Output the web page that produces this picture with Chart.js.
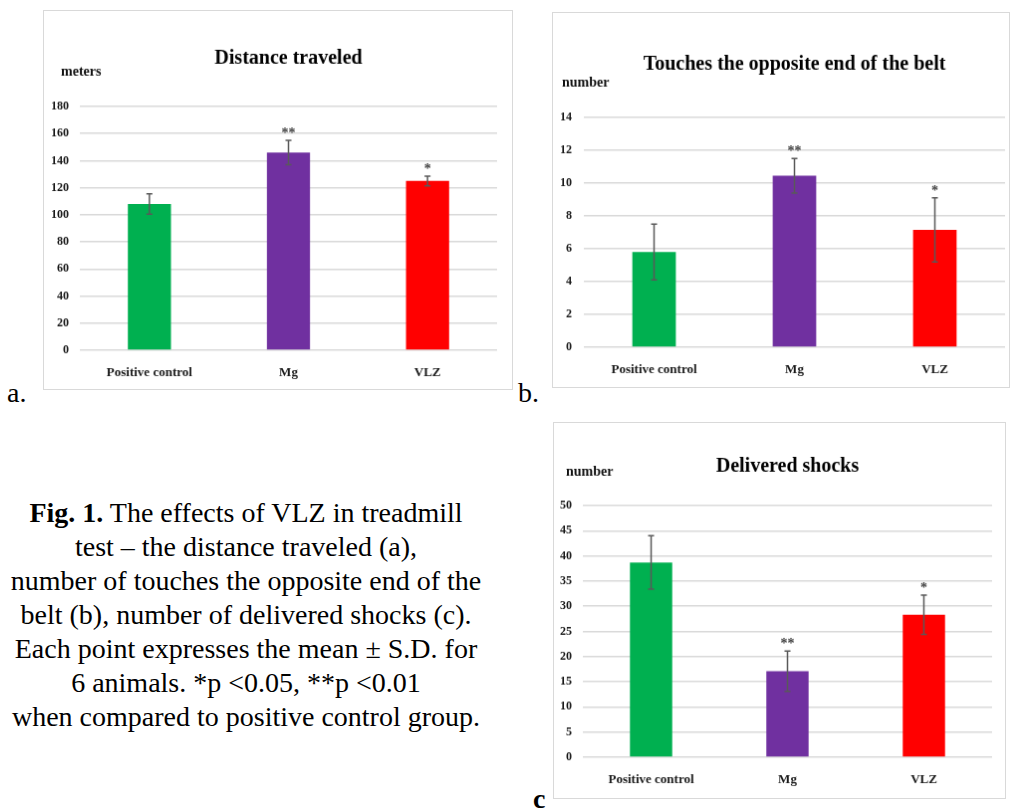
<!DOCTYPE html>
<html>
<head>
<meta charset="utf-8">
<script src="https://cdn.jsdelivr.net/npm/chart.js@4/dist/chart.umd.min.js"></script>
<style>
  html, body { margin: 0; padding: 0; background: #fff; }
  body { width: 1012px; height: 812px; position: relative; overflow: hidden; font-family: "Liberation Serif", serif; }
  canvas { position: absolute; border: 1px solid #d9d9d9; }
  .tag { position: absolute; font-size: 28px; line-height: 30px; color: #000; }
  #caption { position: absolute; left: 0; top: 496px; width: 492px; text-align: center; font-size: 28px; line-height: 34px; color: #000; }
</style>
</head>
<body>
<canvas id="chartA" width="470" height="380" style="left:43px; top:10px;"></canvas>
<canvas id="chartB" width="458" height="376" style="left:552px; top:12px;"></canvas>
<canvas id="chartC" width="453" height="377" style="left:553px; top:422px;"></canvas>

<div class="tag" style="left:7px; top:378px;">a.</div>
<div class="tag" style="left:518px; top:378px;">b.</div>
<div class="tag" style="left:533px; top:784px; font-weight:bold;">c</div>

<div id="caption"><b>Fig. 1.</b> The effects of VLZ in treadmill<br>test – the distance traveled (a),<br>number of touches the opposite end of the<br>belt (b), number of delivered shocks (c).<br>Each point expresses the mean ± S.D. for<br>6 animals. *p &lt;0.05, **p &lt;0.01<br>when compared to positive control group.</div>

<script>
// groups and colours
const groups = ['Positive control', 'Mg', 'VLZ'];
const barColors = ['#00B050', '#7030A0', '#FF0000'];

// a. distance traveled (meters)
const distanceMean = [108, 146, 125];
const distanceSD = [7.5, 9, 3.5];
const distanceStars = ['', '**', '*'];
const distanceTicks = [0, 20, 40, 60, 80, 100, 120, 140, 160, 180];

// b. touches of the opposite end of the belt
const touchesMean = [5.8, 10.45, 7.15];
const touchesSD = [1.7, 1.05, 1.95];
const touchesStars = ['', '**', '*'];
const touchesTicks = [0, 2, 4, 6, 8, 10, 12, 14];

// c. delivered shocks
const shocksMean = [38.7, 17.1, 28.3];
const shocksSD = [5.3, 4.0, 3.9];
const shocksStars = ['', '**', '*'];
const shocksTicks = [0, 5, 10, 15, 20, 25, 30, 35, 40, 45, 50];

const FONT = '"Liberation Serif", "Times New Roman", serif';

// error bars, significance stars and the unit label
const errorBars = {
  id: 'errorBars',
  afterDatasetsDraw(chart, args, opts) {
    const ctx = chart.ctx;
    const y = chart.scales.y;
    const means = chart.data.datasets[0].data;
    ctx.save();
    ctx.strokeStyle = '#595959';
    ctx.lineWidth = 1.5;
    ctx.fillStyle = '#404040';
    ctx.font = 'bold 14px ' + FONT;
    ctx.textAlign = 'center';
    ctx.textBaseline = 'alphabetic';
    chart.getDatasetMeta(0).data.forEach((bar, i) => {
      const top = y.getPixelForValue(means[i] + opts.sd[i]);
      const bot = y.getPixelForValue(means[i] - opts.sd[i]);
      ctx.beginPath();
      ctx.moveTo(bar.x, top); ctx.lineTo(bar.x, bot);
      ctx.moveTo(bar.x - 3, top); ctx.lineTo(bar.x + 3, top);
      ctx.moveTo(bar.x - 3, bot); ctx.lineTo(bar.x + 3, bot);
      ctx.stroke();
      if (opts.stars[i]) ctx.fillText(opts.stars[i], bar.x, top - 3);
    });
    ctx.fillStyle = '#111';
    ctx.font = 'bold 14px ' + FONT;
    ctx.textAlign = 'left';
    ctx.textBaseline = 'middle';
    ctx.fillText(opts.unit, opts.unitX, opts.unitY);
    ctx.restore();
  }
};
Chart.register(errorBars);

function makeChart(id, cfg) {
  const ticks = cfg.ticks;
  const canvas = document.getElementById(id);
  return new Chart(canvas, {
    type: 'bar',
    data: {
      labels: groups,
      datasets: [{
        data: cfg.mean,
        backgroundColor: barColors,
        borderWidth: 0,
        barPercentage: 0.31,
        categoryPercentage: 1
      }]
    },
    options: {
      responsive: false,
      animation: false,
      layout: { padding: { left: 0, top: 0, bottom: 0, right: cfg.padRight } },
      plugins: {
        legend: { display: false },
        tooltip: { enabled: false },
        title: {
          display: true,
          text: cfg.title,
          fullSize: false,
          color: '#000',
          font: { family: FONT, size: 20, weight: 'bold', lineHeight: 1.2 },
          padding: { top: cfg.titleTop, bottom: cfg.titleBottom }
        },
        errorBars: { sd: cfg.sd, stars: cfg.stars, unit: cfg.unit, unitX: cfg.unitX, unitY: cfg.unitY }
      },
      scales: {
        x: {
          grid: { display: false, drawTicks: false },
          border: { display: false },
          ticks: { color: '#1a1a1a', padding: 15, font: { family: FONT, size: 13, weight: 'bold' } },
          afterFit(scale) { scale.height = cfg.xHeight; }
        },
        y: {
          min: ticks[0],
          max: ticks[ticks.length - 1],
          grid: { color: '#d9d9d9', lineWidth: 1.5, drawTicks: false },
          border: { display: false },
          ticks: { stepSize: ticks[1] - ticks[0], color: '#1a1a1a', padding: cfg.tickPad, font: { family: FONT, size: 12, weight: 'bold' } },
          afterFit(scale) { scale.width = cfg.yWidth; }
        }
      }
    }
  });
}

makeChart('chartA', {
  title: 'Distance traveled', unit: 'meters',
  mean: distanceMean, sd: distanceSD, stars: distanceStars, ticks: distanceTicks,
  yWidth: 36, padRight: 15, xHeight: 39, tickPad: 11,
  titleTop: 36, titleBottom: 36, unitX: 17, unitY: 61
});

makeChart('chartB', {
  title: 'Touches the opposite end of the belt', unit: 'number',
  mean: touchesMean, sd: touchesSD, stars: touchesStars, ticks: touchesTicks,
  yWidth: 31, padRight: 4, xHeight: 40, tickPad: 12,
  titleTop: 40, titleBottom: 41, unitX: 9, unitY: 70
});

makeChart('chartC', {
  title: 'Delivered shocks', unit: 'number',
  mean: shocksMean, sd: shocksSD, stars: shocksStars, ticks: shocksTicks,
  yWidth: 29, padRight: 13, xHeight: 41, tickPad: 11,
  titleTop: 32, titleBottom: 27, unitX: 12, unitY: 49
});
</script>
</body>
</html>
